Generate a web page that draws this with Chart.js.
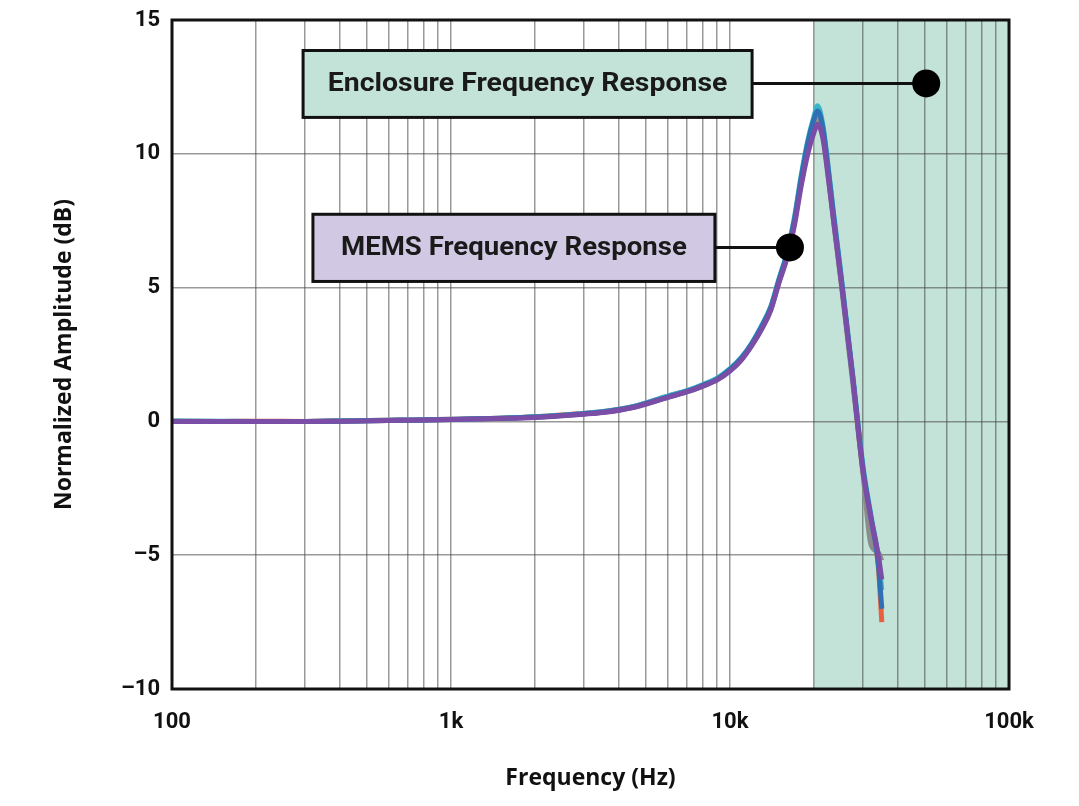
<!DOCTYPE html>
<html>
<head>
<meta charset="utf-8">
<script src="https://cdn.jsdelivr.net/npm/chart.js@4/dist/chart.umd.min.js"></script>
<style>
html,body{margin:0;padding:0;background:#fff;}
#wrap{width:1079px;height:806px;position:relative;}
</style>
</head>
<body>
<div id="wrap"><canvas id="c" width="1079" height="806"></canvas></div>
<script>
// ---- data ----
const freqs = [100,150,200,300,400,650,1000,1500,2000,3000,3500,4500,6000,7000,8000,9000,10000,11000,12000,13000,14000,15000,16000,17000,18000,19000,20000,20600,21500,22500,23500,25000,27500,30000,32000,34000,35000];
const memsPurple = [0,0,0,0,0.01,0.04,0.07,0.11,0.15,0.27,0.33,0.52,0.9,1.1,1.32,1.55,1.88,2.3,2.85,3.45,4.15,5.2,6.1,7.3,8.8,10.0,10.8,11.1,10.6,9.1,7.5,5.3,1.7,-1.9,-3.6,-5.0,-5.9];
const encCyan    = [0.02,0.01,0,0,0.02,0.05,0.08,0.12,0.17,0.3,0.37,0.56,0.95,1.15,1.38,1.62,1.97,2.4,2.95,3.6,4.3,5.35,6.3,7.6,9.2,10.5,11.4,11.8,11.1,9.5,7.8,5.5,1.8,-1.7,-3.5,-5.1,-6.3];
const encBlue    = [0,0,0,0,0.01,0.04,0.07,0.12,0.16,0.29,0.35,0.54,0.92,1.12,1.35,1.58,1.94,2.37,2.92,3.55,4.25,5.3,6.25,7.5,9.1,10.4,11.3,11.6,11.0,9.4,7.7,5.4,1.7,-1.8,-3.6,-5.3,-7.0];
const encOrange  = [0.01,0,0.01,0,0.02,0.05,0.08,0.12,0.17,0.3,0.36,0.55,0.94,1.14,1.36,1.6,1.95,2.37,2.9,3.52,4.22,5.25,6.2,7.45,9.0,10.3,11.1,11.3,10.8,9.3,7.6,5.3,1.6,-1.9,-3.7,-5.4,-7.5];
const encGray    = [0,0,0,0,0.01,0.04,0.07,0.11,0.16,0.28,0.34,0.53,0.91,1.1,1.32,1.56,1.9,2.33,2.88,3.5,4.2,5.25,6.15,7.4,8.95,10.2,11.0,11.3,10.8,9.2,7.5,5.2,1.5,-2.0,-4.6,-4.9,-5.2];
const xTickValues = [100,200,300,400,500,600,700,800,900,1000,2000,3000,4000,5000,6000,7000,8000,9000,10000,20000,30000,40000,50000,60000,70000,80000,90000,100000];
const xTickLabels = {100:'100',1000:'1k',10000:'10k',100000:'100k'};
const yTickValues = [-10,-5,0,5,10,15];
const shadeRange = [20000,100000];
const enclosureNote = {text:'Enclosure Frequency Response', box:[295,12000,13.86,11.36], dot:[50500,12.63], fill:'#c3e2d8', textFrac:0.89};
const memsNote = {text:'MEMS Frequency Response', box:[320,8830,7.74,5.23], dot:[16400,6.5], fill:'#d1c9e3', textFrac:0.86};

const mk = (label, data, color) => ({
  label, data: freqs.map((f,i)=>({x:f,y:data[i]})), borderColor: color, borderWidth: 5,
  pointRadius: 0, tension: 0.3, cubicInterpolationMode: 'monotone', fill: false
});

const shadePlugin = {
  id: 'shade',
  beforeDraw(chart){
    const {ctx, chartArea:a, scales:{x}} = chart;
    const x0 = x.getPixelForValue(shadeRange[0]);
    const x1 = x.getPixelForValue(shadeRange[1]);
    ctx.save();
    ctx.fillStyle = '#c4e3d8';
    ctx.fillRect(x0, a.top, x1-x0, a.bottom-a.top);
    ctx.restore();
  }
};

function drawNote(chart, note){
  const {ctx, scales:{x,y}} = chart;
  const bx0 = x.getPixelForValue(note.box[0]), bx1 = x.getPixelForValue(note.box[1]);
  const by0 = y.getPixelForValue(note.box[2]), by1 = y.getPixelForValue(note.box[3]);
  const dx = x.getPixelForValue(note.dot[0]), dy = y.getPixelForValue(note.dot[1]);
  ctx.save();
  ctx.fillStyle = note.fill;
  ctx.fillRect(bx0, by0, bx1-bx0, by1-by0);
  ctx.lineWidth = 3; ctx.strokeStyle = '#111';
  ctx.strokeRect(bx0, by0, bx1-bx0, by1-by0);
  ctx.beginPath(); ctx.moveTo(bx1, dy); ctx.lineTo(dx, dy); ctx.stroke();
  ctx.beginPath(); ctx.arc(dx, dy, 14, 0, Math.PI*2); ctx.fillStyle='#000'; ctx.fill();
  ctx.fillStyle = '#1a1a1a';
  ctx.font = 'bold 25px Roboto';
  ctx.textAlign = 'center'; ctx.textBaseline = 'middle';
  const w = ctx.measureText(note.text).width;
  const sx = (bx1-bx0)*note.textFrac / w;
  ctx.translate((bx0+bx1)/2, (by0+by1)/2 + 1);
  ctx.scale(sx, 1);
  ctx.fillText(note.text, 0, 0);
  ctx.restore();
}

const notesPlugin = {
  id: 'notes',
  afterDatasetsDraw(chart){
    const {ctx, chartArea:a} = chart;
    ctx.save();
    ctx.lineWidth = 3; ctx.strokeStyle = '#111';
    ctx.strokeRect(a.left, a.top, a.right-a.left, a.bottom-a.top);
    ctx.restore();
    drawNote(chart, enclosureNote);
    drawNote(chart, memsNote);
  }
};

new Chart(document.getElementById('c'), {
  type: 'line',
  data: {
    datasets: [
      mk('MEMS', memsPurple, '#7a4ea6'),
      mk('Enclosure 1', encBlue, '#2f6fb3'),
      mk('Enclosure 2', encCyan, '#3bb5c8'),
      mk('Enclosure 3', encGray, '#8c8c8c'),
      mk('Enclosure 4', encOrange, '#e8603c')
    ]
  },
  options: {
    responsive: false,
    animation: false,
    layout: {padding: {top: 20, right: 70, left: 0, bottom: 0}},
    plugins: {legend: {display: false}, tooltip: {enabled: false}},
    scales: {
      x: {
        type: 'logarithmic', min: 100, max: 100000,
        afterBuildTicks: s => { s.ticks = xTickValues.map(v => ({value: v})); },
        afterFit: s => { s.height = 117; },
        ticks: {
          autoSkip: false, maxRotation: 0, padding: 20,
          color: '#111', font: {family: 'Roboto', weight: 'bold', size: 22},
          callback: v => xTickLabels[v] || ''
        },
        grid: {drawTicks: false, color: 'rgba(70,70,70,0.55)', lineWidth: 1.5},
        border: {display: false},
        title: {
          display: true, text: 'Frequency (Hz)', color: '#111',
          font: {family: 'Open Sans', weight: 'bold', size: 23}, padding: {top: 0, bottom: 14}
        }
      },
      y: {
        type: 'linear', min: -10, max: 15,
        afterBuildTicks: s => { s.ticks = yTickValues.map(v => ({value: v})); },
        afterFit: s => { s.width = 172; },
        ticks: {
          padding: 12, color: '#111', font: {family: 'Roboto', weight: 'bold', size: 22, lineHeight: 0.6},
          callback: v => v < 0 ? '\u2013' + Math.abs(v) : String(v)
        },
        grid: {drawTicks: false, color: 'rgba(70,70,70,0.55)', lineWidth: 1.5},
        border: {display: false},
        title: {
          display: true, text: 'Normalized Amplitude (dB)', color: '#111',
          font: {family: 'Open Sans', weight: 'bold', size: 23}, padding: {top: 51, bottom: 0}
        }
      }
    }
  },
  plugins: [shadePlugin, notesPlugin]
});
</script>
</body>
</html>
